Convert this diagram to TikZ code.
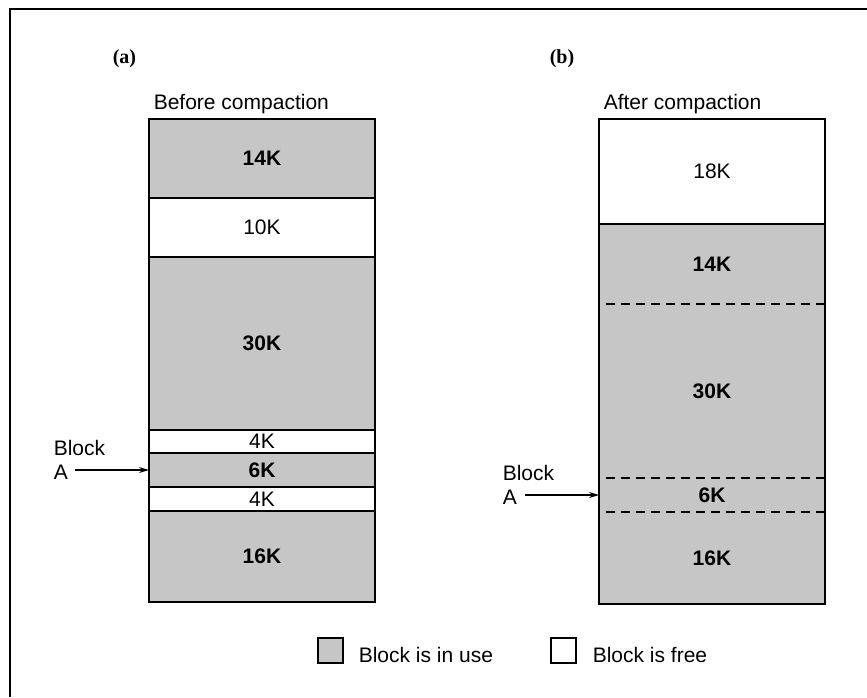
\documentclass[tikz,border=0pt]{standalone}
\usepackage{fontspec}
\setmainfont{Liberation Sans}
\newfontfamily\capfont{Liberation Serif}
\usetikzlibrary{arrows.meta, positioning}
\definecolor{inuse}{HTML}{c6c6c6}

\begin{document}
\begin{tikzpicture}[x=1pt, y=-1pt, line width=1.6pt,
    txt/.style={inner sep=0pt, font=\fontsize{21}{24}\selectfont},
    blk/.style={inner sep=0pt, outer sep=0pt, anchor=north west, minimum width=226pt},
    arr/.style={-{Stealth[length=10pt, width=6pt]}, line width=1.1pt}]
  \useasboundingbox (0,0) rectangle (867,697);
  \draw[line width=2pt] (10,697) -- (10,9) -- (867,9);

  % column captions
  \node[inner sep=0pt, anchor=base west, font=\fontsize{20}{22}\selectfont\capfont\bfseries] (capa) at (112,63) {(a)};
  \node[inner sep=0pt, anchor=base west, font=\fontsize{20}{22}\selectfont\capfont\bfseries] (capb) at (549,63) {(b)};
  \node[txt, anchor=base west] (before) at (153,109) {Before compaction};
  \node[txt, anchor=base west] (after) at (603,109) {After compaction};

  % before compaction
  \foreach \ya/\yb/\lbl/\fl/\wt/\nm in {119/198/14K/inuse/\bfseries/a14, 198/257/10K/white/\mdseries/a10,
      257/430/30K/inuse/\bfseries/a30, 430/453/4K/white/\mdseries/a4t, 453/487/6K/inuse/\bfseries/a6,
      487/511/4K/white/\mdseries/a4b, 511/602/16K/inuse/\bfseries/a16}
    \node[blk, draw, fill=\fl, minimum height=\yb-\ya, font=\fontsize{21}{24}\selectfont\wt] (\nm) at (149,\ya) {\lbl};

  % after compaction
  \node[blk, draw, fill=white, minimum height=105, font=\fontsize{21}{24}\selectfont] (b18) at (599,119) {18K};
  \foreach \ya/\yb/\lbl/\nm in {224/304/14K/b14, 304/478/30K/b30, 478/512/6K/b6, 512/604/16K/b16}
    \node[blk, fill=inuse, minimum height=\yb-\ya, font=\fontsize{21}{24}\selectfont\bfseries] (\nm) at (599,\ya) {\lbl};
  \draw (b14.north west) rectangle (b16.south east);
  \foreach \nm in {b14, b30, b6}
    \draw[dash pattern=on 9pt off 6pt] ([xshift=7pt]\nm.south west) -- (\nm.south east);

  % block A pointers
  \node[txt, align=left, anchor=west] (blkAa) at (53,460) {Block\\A};
  \coordinate (arrAa) at (75,470);
  \draw[arr] (arrAa) -- (a6.west);
  \node[txt, align=left, anchor=west] (blkAb) at (502,485) {Block\\A};
  \coordinate (arrAb) at (525,495);
  \draw[arr] (arrAb) -- (b6.west);

  % key
  \node[draw, fill=inuse, minimum size=25pt, inner sep=0pt, anchor=north west] (keyuse) at (317,637) {};
  \node[txt, anchor=base west] (keyusetxt) at (358,662) {Block is in use};
  \node[draw, fill=white, minimum size=25pt, inner sep=0pt, anchor=north west] (keyfree) at (550,637) {};
  \node[txt, anchor=base west] (keyfreetxt) at (592,662) {Block is free};
\end{tikzpicture}
\end{document}
